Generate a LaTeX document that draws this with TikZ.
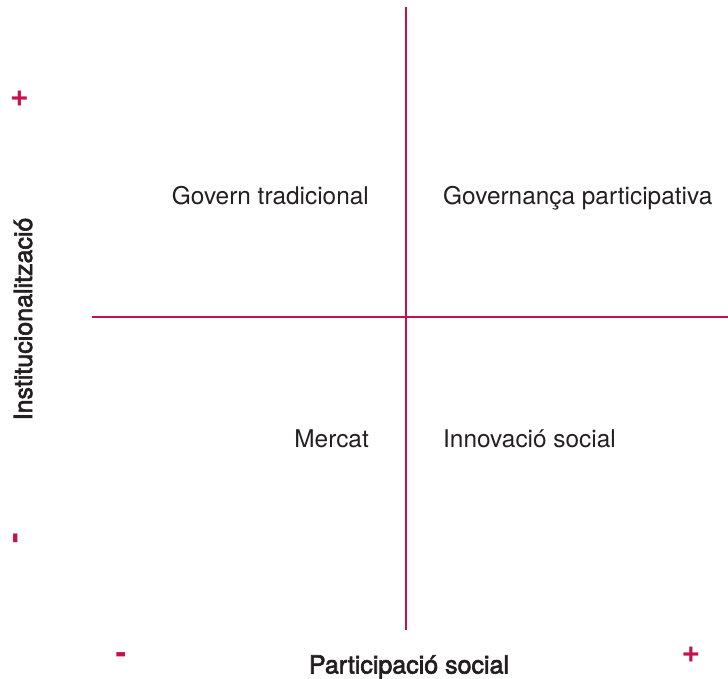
\documentclass[tikz,border=0pt]{standalone}
\usepackage{fontspec}
\setmainfont{TeX Gyre Heros}
\newfontfamily\mediumfont[FakeBold=2.5]{TeX Gyre Heros}
\definecolor{axisred}{RGB}{200,16,74}
\definecolor{labelgray}{RGB}{35,31,32}

\tikzset{
    quadrant/.style={text=labelgray, inner sep=0pt, font=\fontsize{24.4}{28}\selectfont},
    axislabel/.style={text=labelgray, inner sep=0pt, font=\mediumfont\fontsize{25}{28}\selectfont},
    sign/.style={text=axisred, inner sep=0pt, font=\fontsize{32}{34}\selectfont\bfseries},
    axisline/.style={draw=axisred, line width=1.2pt}
}

\begin{document}
\begin{tikzpicture}[x=1pt,y=-1pt]
            \useasboundingbox (0,0) rectangle (728,679);

            \coordinate (top) at (406,7);
            \coordinate (bottom) at (406,630);
            \coordinate (left) at (92,317);
            \coordinate (right) at (728,317);

            \draw [axisline] (top) -- (bottom);
            \draw [axisline] (left) -- (right);

            \node [quadrant, anchor=base east] (govern) at (369,205) {Govern tradicional};
            \node [quadrant, anchor=base west] (governanca) at (443,205) {Governança participativa};
            \node [quadrant, anchor=base east] (mercat) at (369,447) {Mercat};
            \node [quadrant, anchor=base west] (innovacio) at (443,447) {Innovació social};

            \node [axislabel, anchor=base] (participacio) at (409,673.5) {Participació social};
            \node [axislabel, anchor=base, rotate=90] (institucio) at (32,319) {Institucionalització};

            \node [sign] (ymax) at (19.5,98.5) {+};
            \node [sign, rotate=90] (ymin) at (18.7,538) {-};
            \node [sign] (xmin) at (121,658) {-};
            \node [sign] (xmax) at (691,655) {+};
\end{tikzpicture}
\end{document}
